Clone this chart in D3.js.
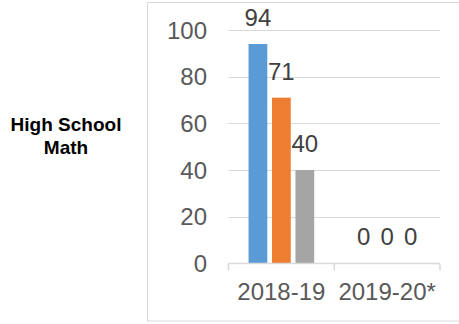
<!DOCTYPE html>
<html>
<head>
<meta charset="utf-8">
<script src="https://cdn.jsdelivr.net/npm/d3@7"></script>
<style>
  html, body { margin: 0; padding: 0; background: #fff; }
  svg { display: block; font-family: "Liberation Sans", Arial, sans-serif; }
</style>
</head>
<body>
<svg id="chart" width="459" height="324"></svg>
<script>
// School years on the x axis
const years = ["2018-19", "2019-20*"];
// Three series per year
const seriesNames = ["s1", "s2", "s3"];
const seriesColors = ["#5b9bd5", "#ed7d31", "#a5a5a5"];
// Values per year, one entry per series
const values2018 = [94, 71, 40];
const values2019 = [0, 0, 0];
const yTicks = [0, 20, 40, 60, 80, 100];
const rowTitle = ["High School", "Math"];

const rows = [
  { year: years[0], vals: values2018 },
  { year: years[1], vals: values2019 }
];

const svg = d3.select("#chart");

// Chart frame
svg.append("rect")
  .attr("x", 147.5).attr("y", 2.5)
  .attr("width", 330).attr("height", 318.5)
  .attr("fill", "none").attr("stroke", "#d9d9d9").attr("stroke-width", 1);

const plot = { left: 228.5, right: 440, top: 30, bottom: 263.3 };

const y = d3.scaleLinear().domain([0, 100]).range([plot.bottom, plot.top]);
const x0 = d3.scaleBand().domain(years).range([plot.left, plot.right]).padding(0);
const x1 = d3.scaleBand().domain(seriesNames).range([0, x0.bandwidth()])
  .paddingInner(0.2).paddingOuter(0.855);

// Gridlines
svg.append("g").selectAll("line")
  .data(yTicks.filter(t => t > 0))
  .join("line")
  .attr("x1", plot.left).attr("x2", plot.right)
  .attr("y1", d => Math.round(y(d)) + 0.5).attr("y2", d => Math.round(y(d)) + 0.5)
  .attr("stroke", "#d9d9d9").attr("stroke-width", 1);

// Y tick labels
svg.append("g").selectAll("text")
  .data(yTicks)
  .join("text")
  .attr("x", 207).attr("y", d => y(d))
  .attr("dy", "0.36em")
  .attr("text-anchor", "end")
  .attr("font-size", 24)
  .attr("fill", "#595959")
  .text(d => d);

// Bars
const groups = svg.append("g").selectAll("g")
  .data(rows)
  .join("g")
  .attr("transform", d => `translate(${x0(d.year)},0)`);

groups.selectAll("rect")
  .data(d => d.vals.map((v, i) => ({ key: seriesNames[i], v, c: seriesColors[i] })))
  .join("rect")
  .attr("x", d => x1(d.key))
  .attr("width", x1.bandwidth())
  .attr("y", d => y(d.v))
  .attr("height", d => y(0) - y(d.v))
  .attr("fill", d => d.c);

// Value labels
groups.selectAll("text")
  .data(d => d.vals.map((v, i) => ({ key: seriesNames[i], v })))
  .join("text")
  .attr("x", d => x1(d.key) + x1.bandwidth() / 2)
  .attr("y", d => y(d.v) - 18)
  .attr("text-anchor", "middle")
  .attr("font-size", 24)
  .attr("fill", "#404040")
  .text(d => d.v);

// X axis line and category ticks
const axisY = Math.round(y(0)) + 0.5;
svg.append("line")
  .attr("x1", plot.left).attr("x2", plot.right)
  .attr("y1", axisY).attr("y2", axisY)
  .attr("stroke", "#d9d9d9").attr("stroke-width", 1.5);
const tickXs = years.map(d => x0(d)).concat([x0(years[years.length - 1]) + x0.bandwidth()]);
svg.append("g").selectAll("line")
  .data(tickXs)
  .join("line")
  .attr("x1", d => d).attr("x2", d => d)
  .attr("y1", axisY).attr("y2", axisY + 7)
  .attr("stroke", "#d9d9d9").attr("stroke-width", 1.5);

// X labels
svg.append("g").selectAll("text")
  .data(years)
  .join("text")
  .attr("x", d => x0(d) + x0.bandwidth() / 2)
  .attr("y", 300)
  .attr("text-anchor", "middle")
  .attr("font-size", 24)
  .attr("fill", "#595959")
  .text(d => d);

// Row title
svg.append("text")
  .attr("x", 66).attr("y", 131)
  .attr("text-anchor", "middle")
  .attr("font-size", 19)
  .attr("font-weight", "bold")
  .attr("fill", "#000")
  .selectAll("tspan")
  .data(rowTitle)
  .join("tspan")
  .attr("x", 66)
  .attr("dy", (d, i) => i === 0 ? 0 : 22.5)
  .text(d => d);
</script>
</body>
</html>
